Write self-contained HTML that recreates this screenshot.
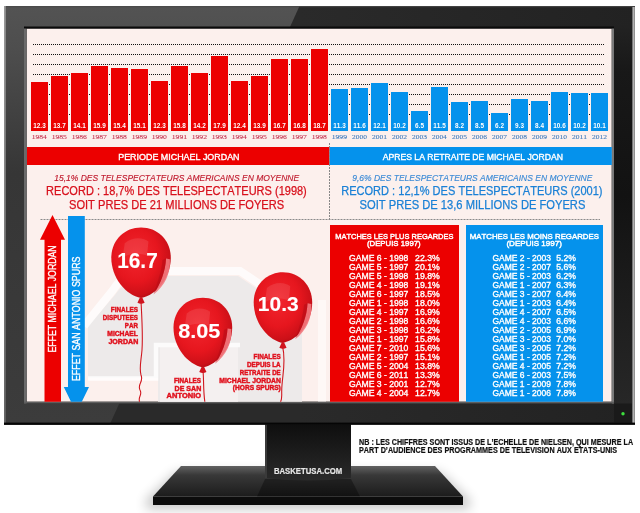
<!DOCTYPE html>
<html><head><meta charset="utf-8"><title>Audiences NBA Finals</title>
<style>
html,body{margin:0;padding:0;background:#fff;width:640px;height:513px;overflow:hidden}
svg{display:block;font-family:'Liberation Sans', Arial, sans-serif}
text{font-kerning:none}
</style></head><body>
<svg width="640" height="513" viewBox="0 0 640 513">
<defs>
<linearGradient id="bezL" gradientUnits="userSpaceOnUse" x1="0" y1="6" x2="0" y2="424"><stop offset="0" stop-color="#535353"/><stop offset="0.1" stop-color="#4e4e4e"/><stop offset="0.4" stop-color="#363636"/><stop offset="1" stop-color="#3c3c3c"/></linearGradient>
<linearGradient id="bezR" gradientUnits="userSpaceOnUse" x1="300" y1="0" x2="635" y2="0"><stop offset="0" stop-color="#2a2a2a"/><stop offset="1" stop-color="#222"/></linearGradient>
<linearGradient id="bezRR" gradientUnits="userSpaceOnUse" x1="0" y1="26" x2="0" y2="404"><stop offset="0" stop-color="#222"/><stop offset="0.12" stop-color="#181818"/><stop offset="0.45" stop-color="#121212"/><stop offset="1" stop-color="#272727"/></linearGradient>
<linearGradient id="edgeL" x1="0" y1="0" x2="0" y2="1"><stop offset="0" stop-color="#9a9a9a"/><stop offset="1" stop-color="#666"/></linearGradient>
<linearGradient id="edgeR" x1="0" y1="0" x2="1" y2="0"><stop offset="0" stop-color="#555"/><stop offset="0.5" stop-color="#aaa"/><stop offset="1" stop-color="#ddd"/></linearGradient>
<linearGradient id="neck" x1="0" y1="0" x2="0" y2="1"><stop offset="0" stop-color="#0e0e0e"/><stop offset="0.5" stop-color="#1c1c1c"/><stop offset="1" stop-color="#2a2a2a"/></linearGradient>
<linearGradient id="baseTop" x1="0" y1="0" x2="0" y2="1"><stop offset="0" stop-color="#626262"/><stop offset="0.3" stop-color="#383838"/><stop offset="1" stop-color="#1c1c1c"/></linearGradient>
<radialGradient id="bal" cx="0.42" cy="0.4" r="0.62"><stop offset="0" stop-color="#f2262e"/><stop offset="0.6" stop-color="#e6161e"/><stop offset="0.9" stop-color="#cc1018"/><stop offset="1" stop-color="#b40c14"/></radialGradient>
<filter id="blur6" x="-50%" y="-50%" width="200%" height="200%"><feGaussianBlur stdDeviation="6"/></filter>
</defs>
<polygon points="176,472 440,472 470,500 470,509 146,509 146,500" fill="#000" opacity="0.22" filter="url(#blur6)"/>
<polygon points="181,466 435,466 463,496.5 153,496.5" fill="url(#baseTop)"/>
<polygon points="265,479 351,479 360,496.5 257,496.5" fill="#000" opacity="0.35"/>
<rect x="153" y="496.5" width="310" height="8.5" fill="#0c0c0c"/>
<path d="M265,424 L351,424 L351,478 Q308,483 265,478 Z" fill="url(#neck)"/>
<rect x="265" y="424" width="2" height="54" fill="#3a3a3a"/>
<text x="273.88" y="473.80" font-size="8.72" fill="#e6e6e6" font-weight="bold" textLength="68.33" lengthAdjust="spacingAndGlyphs" stroke="#e6e6e6" stroke-width="0.2">BASKETUSA.COM</text>
<rect x="4" y="6" width="631" height="418.7" fill="url(#bezR)"/>
<rect x="612" y="26" width="21" height="378" fill="url(#bezRR)"/>
<polygon points="4,6 299.5,6 109.6,424.7 4,424.7" fill="url(#bezL)"/>
<rect x="4" y="6" width="631" height="1.2" fill="#4a4a4a" opacity="0.8"/>
<rect x="4" y="6" width="1.8" height="418" fill="url(#edgeL)"/>
<rect x="632" y="7" width="2.6" height="416" fill="url(#edgeR)"/>
<rect x="614" y="403.5" width="18" height="19" fill="#1a1a1a"/>
<rect x="4" y="422.6" width="631" height="2.1" fill="#050505"/>
<circle cx="623" cy="413.7" r="1.7" fill="#3ee03e"/>
<rect x="24" y="26.5" width="590" height="377" fill="#0a0a0a"/>
<rect x="24" y="28.5" width="2.5" height="375" fill="#6a6a6a"/>
<rect x="611.8" y="28.5" width="2.2" height="375" fill="#7a7a7a"/>
<rect x="24" y="401.8" width="590" height="1.7" fill="#5e5e5e"/>
<clipPath id="scr"><rect x="26.5" y="28.5" width="585.3" height="373.3"/></clipPath>
<g clip-path="url(#scr)">
<rect x="26.5" y="28.5" width="585.3" height="373.3" fill="#fcf0ed"/>
<path d="M88,378 L88,326 L115,295 Q127,277 148,276 L238,276 L262,292 L302,292 L302,402 L158,402 L158,378 Z" fill="#edeaea"/>
<rect x="160" y="347" width="78" height="56" fill="#f4f0f0"/>
<path d="M84,326 L113,290 Q124,272 145,271 L240,271 L264,287" stroke="#fff" stroke-width="8" fill="none" opacity="0.75"/>
<path d="M88,378.5 L156,378.5 L156,345 L240,345" stroke="#fff" stroke-width="4.5" fill="none" opacity="0.8"/>
<rect x="318" y="300" width="8" height="102" fill="#fff" opacity="0.5"/>
<line x1="33" y1="44.5" x2="604" y2="44.5" stroke="#111" stroke-width="1" stroke-dasharray="1 1" shape-rendering="crispEdges"/>
<line x1="33" y1="54.5" x2="604" y2="54.5" stroke="#111" stroke-width="1" stroke-dasharray="1 1" shape-rendering="crispEdges"/>
<line x1="33" y1="64.5" x2="604" y2="64.5" stroke="#111" stroke-width="1" stroke-dasharray="1 1" shape-rendering="crispEdges"/>
<line x1="33" y1="74.5" x2="604" y2="74.5" stroke="#111" stroke-width="1" stroke-dasharray="1 1" shape-rendering="crispEdges"/>
<line x1="33" y1="84.5" x2="604" y2="84.5" stroke="#111" stroke-width="1" stroke-dasharray="1 1" shape-rendering="crispEdges"/>
<line x1="33" y1="94.5" x2="604" y2="94.5" stroke="#111" stroke-width="1" stroke-dasharray="1 1" shape-rendering="crispEdges"/>
<line x1="33" y1="104.5" x2="604" y2="104.5" stroke="#111" stroke-width="1" stroke-dasharray="1 1" shape-rendering="crispEdges"/>
<line x1="33" y1="114.5" x2="604" y2="114.5" stroke="#111" stroke-width="1" stroke-dasharray="1 1" shape-rendering="crispEdges"/>
<rect x="31" y="82" width="17" height="49" fill="#ec0000"/>
<text x="39.50" y="128.00" font-size="6.40" fill="#fff" font-weight="bold" text-anchor="middle">12.3</text>
<text x="31.68" y="138.70" font-size="6.82" fill="#c4304e" font-family="'Liberation Serif', 'Times New Roman', serif" textLength="15.10" lengthAdjust="spacingAndGlyphs" stroke="#c4304e" stroke-width="0.08">1984</text>
<rect x="51" y="76" width="17" height="55" fill="#ec0000"/>
<text x="59.50" y="128.00" font-size="6.40" fill="#fff" font-weight="bold" text-anchor="middle">13.7</text>
<text x="51.67" y="138.70" font-size="6.82" fill="#c4304e" font-family="'Liberation Serif', 'Times New Roman', serif" textLength="15.29" lengthAdjust="spacingAndGlyphs" stroke="#c4304e" stroke-width="0.08">1985</text>
<rect x="71" y="73" width="17" height="58" fill="#ec0000"/>
<text x="79.50" y="128.00" font-size="6.40" fill="#fff" font-weight="bold" text-anchor="middle">14.1</text>
<text x="71.67" y="138.70" font-size="6.82" fill="#c4304e" font-family="'Liberation Serif', 'Times New Roman', serif" textLength="15.22" lengthAdjust="spacingAndGlyphs" stroke="#c4304e" stroke-width="0.08">1986</text>
<rect x="91" y="66" width="17" height="65" fill="#ec0000"/>
<text x="99.50" y="128.00" font-size="6.40" fill="#fff" font-weight="bold" text-anchor="middle">15.9</text>
<text x="91.67" y="138.70" font-size="6.82" fill="#c4304e" font-family="'Liberation Serif', 'Times New Roman', serif" textLength="15.21" lengthAdjust="spacingAndGlyphs" stroke="#c4304e" stroke-width="0.08">1987</text>
<rect x="111" y="68" width="17" height="63" fill="#ec0000"/>
<text x="119.50" y="128.00" font-size="6.40" fill="#fff" font-weight="bold" text-anchor="middle">15.4</text>
<text x="111.67" y="138.70" font-size="6.82" fill="#c4304e" font-family="'Liberation Serif', 'Times New Roman', serif" textLength="15.28" lengthAdjust="spacingAndGlyphs" stroke="#c4304e" stroke-width="0.08">1988</text>
<rect x="131" y="69" width="17" height="62" fill="#ec0000"/>
<text x="139.50" y="128.00" font-size="6.40" fill="#fff" font-weight="bold" text-anchor="middle">15.1</text>
<text x="131.67" y="138.70" font-size="6.82" fill="#c4304e" font-family="'Liberation Serif', 'Times New Roman', serif" textLength="15.31" lengthAdjust="spacingAndGlyphs" stroke="#c4304e" stroke-width="0.08">1989</text>
<rect x="151" y="81" width="17" height="50" fill="#ec0000"/>
<text x="159.50" y="128.00" font-size="6.40" fill="#fff" font-weight="bold" text-anchor="middle">12.3</text>
<text x="151.67" y="138.70" font-size="6.82" fill="#c4304e" font-family="'Liberation Serif', 'Times New Roman', serif" textLength="15.28" lengthAdjust="spacingAndGlyphs" stroke="#c4304e" stroke-width="0.08">1990</text>
<rect x="171" y="66" width="17" height="65" fill="#ec0000"/>
<text x="179.50" y="128.00" font-size="6.40" fill="#fff" font-weight="bold" text-anchor="middle">15.8</text>
<text x="171.66" y="138.70" font-size="6.82" fill="#c4304e" font-family="'Liberation Serif', 'Times New Roman', serif" textLength="15.46" lengthAdjust="spacingAndGlyphs" stroke="#c4304e" stroke-width="0.08">1991</text>
<rect x="191" y="73" width="17" height="58" fill="#ec0000"/>
<text x="199.50" y="128.00" font-size="6.40" fill="#fff" font-weight="bold" text-anchor="middle">14.2</text>
<text x="191.66" y="138.70" font-size="6.82" fill="#c4304e" font-family="'Liberation Serif', 'Times New Roman', serif" textLength="15.42" lengthAdjust="spacingAndGlyphs" stroke="#c4304e" stroke-width="0.08">1992</text>
<rect x="211" y="56" width="17" height="75" fill="#ec0000"/>
<text x="219.50" y="128.00" font-size="6.40" fill="#fff" font-weight="bold" text-anchor="middle">17.9</text>
<text x="211.67" y="138.70" font-size="6.82" fill="#c4304e" font-family="'Liberation Serif', 'Times New Roman', serif" textLength="15.29" lengthAdjust="spacingAndGlyphs" stroke="#c4304e" stroke-width="0.08">1993</text>
<rect x="231" y="81" width="17" height="50" fill="#ec0000"/>
<text x="239.50" y="128.00" font-size="6.40" fill="#fff" font-weight="bold" text-anchor="middle">12.4</text>
<text x="231.68" y="138.70" font-size="6.82" fill="#c4304e" font-family="'Liberation Serif', 'Times New Roman', serif" textLength="15.10" lengthAdjust="spacingAndGlyphs" stroke="#c4304e" stroke-width="0.08">1994</text>
<rect x="251" y="76" width="17" height="55" fill="#ec0000"/>
<text x="259.50" y="128.00" font-size="6.40" fill="#fff" font-weight="bold" text-anchor="middle">13.9</text>
<text x="251.67" y="138.70" font-size="6.82" fill="#c4304e" font-family="'Liberation Serif', 'Times New Roman', serif" textLength="15.29" lengthAdjust="spacingAndGlyphs" stroke="#c4304e" stroke-width="0.08">1995</text>
<rect x="271" y="59" width="17" height="72" fill="#ec0000"/>
<text x="279.50" y="128.00" font-size="6.40" fill="#fff" font-weight="bold" text-anchor="middle">16.7</text>
<text x="271.67" y="138.70" font-size="6.82" fill="#c4304e" font-family="'Liberation Serif', 'Times New Roman', serif" textLength="15.22" lengthAdjust="spacingAndGlyphs" stroke="#c4304e" stroke-width="0.08">1996</text>
<rect x="291" y="59" width="17" height="72" fill="#ec0000"/>
<text x="299.50" y="128.00" font-size="6.40" fill="#fff" font-weight="bold" text-anchor="middle">16.8</text>
<text x="291.67" y="138.70" font-size="6.82" fill="#c4304e" font-family="'Liberation Serif', 'Times New Roman', serif" textLength="15.21" lengthAdjust="spacingAndGlyphs" stroke="#c4304e" stroke-width="0.08">1997</text>
<rect x="311" y="49" width="17" height="82" fill="#ec0000"/>
<text x="319.50" y="128.00" font-size="6.40" fill="#fff" font-weight="bold" text-anchor="middle">18.7</text>
<text x="311.67" y="138.70" font-size="6.82" fill="#c4304e" font-family="'Liberation Serif', 'Times New Roman', serif" textLength="15.28" lengthAdjust="spacingAndGlyphs" stroke="#c4304e" stroke-width="0.08">1998</text>
<rect x="331" y="89" width="17" height="42" fill="#0592ec"/>
<text x="339.50" y="128.00" font-size="6.40" fill="#fff" font-weight="bold" text-anchor="middle">11.3</text>
<text x="331.67" y="138.70" font-size="6.82" fill="#3a78bc" font-family="'Liberation Serif', 'Times New Roman', serif" textLength="15.31" lengthAdjust="spacingAndGlyphs" stroke="#3a78bc" stroke-width="0.08">1999</text>
<rect x="351" y="88" width="17" height="43" fill="#0592ec"/>
<text x="359.50" y="128.00" font-size="6.40" fill="#fff" font-weight="bold" text-anchor="middle">11.6</text>
<text x="352.01" y="138.70" font-size="6.82" fill="#3a78bc" font-family="'Liberation Serif', 'Times New Roman', serif" textLength="14.93" lengthAdjust="spacingAndGlyphs" stroke="#3a78bc" stroke-width="0.08">2000</text>
<rect x="371" y="83" width="17" height="48" fill="#0592ec"/>
<text x="379.50" y="128.00" font-size="6.40" fill="#fff" font-weight="bold" text-anchor="middle">12.1</text>
<text x="372.01" y="138.70" font-size="6.82" fill="#3a78bc" font-family="'Liberation Serif', 'Times New Roman', serif" textLength="15.11" lengthAdjust="spacingAndGlyphs" stroke="#3a78bc" stroke-width="0.08">2001</text>
<rect x="391" y="92" width="17" height="39" fill="#0592ec"/>
<text x="399.50" y="128.00" font-size="6.40" fill="#fff" font-weight="bold" text-anchor="middle">10.2</text>
<text x="392.01" y="138.70" font-size="6.82" fill="#3a78bc" font-family="'Liberation Serif', 'Times New Roman', serif" textLength="15.07" lengthAdjust="spacingAndGlyphs" stroke="#3a78bc" stroke-width="0.08">2002</text>
<rect x="411" y="111" width="17" height="20" fill="#0592ec"/>
<text x="419.50" y="128.00" font-size="6.40" fill="#fff" font-weight="bold" text-anchor="middle">6.5</text>
<text x="412.01" y="138.70" font-size="6.82" fill="#3a78bc" font-family="'Liberation Serif', 'Times New Roman', serif" textLength="14.94" lengthAdjust="spacingAndGlyphs" stroke="#3a78bc" stroke-width="0.08">2003</text>
<rect x="431" y="87" width="17" height="44" fill="#0592ec"/>
<text x="439.50" y="128.00" font-size="6.40" fill="#fff" font-weight="bold" text-anchor="middle">11.5</text>
<text x="432.02" y="138.70" font-size="6.82" fill="#3a78bc" font-family="'Liberation Serif', 'Times New Roman', serif" textLength="14.76" lengthAdjust="spacingAndGlyphs" stroke="#3a78bc" stroke-width="0.08">2004</text>
<rect x="451" y="102" width="17" height="29" fill="#0592ec"/>
<text x="459.50" y="128.00" font-size="6.40" fill="#fff" font-weight="bold" text-anchor="middle">8.2</text>
<text x="452.01" y="138.70" font-size="6.82" fill="#3a78bc" font-family="'Liberation Serif', 'Times New Roman', serif" textLength="14.94" lengthAdjust="spacingAndGlyphs" stroke="#3a78bc" stroke-width="0.08">2005</text>
<rect x="471" y="101" width="17" height="30" fill="#0592ec"/>
<text x="479.50" y="128.00" font-size="6.40" fill="#fff" font-weight="bold" text-anchor="middle">8.5</text>
<text x="472.01" y="138.70" font-size="6.82" fill="#3a78bc" font-family="'Liberation Serif', 'Times New Roman', serif" textLength="14.87" lengthAdjust="spacingAndGlyphs" stroke="#3a78bc" stroke-width="0.08">2006</text>
<rect x="491" y="113" width="17" height="18" fill="#0592ec"/>
<text x="499.50" y="128.00" font-size="6.40" fill="#fff" font-weight="bold" text-anchor="middle">6.2</text>
<text x="492.01" y="138.70" font-size="6.82" fill="#3a78bc" font-family="'Liberation Serif', 'Times New Roman', serif" textLength="14.86" lengthAdjust="spacingAndGlyphs" stroke="#3a78bc" stroke-width="0.08">2007</text>
<rect x="511" y="99" width="17" height="32" fill="#0592ec"/>
<text x="519.50" y="128.00" font-size="6.40" fill="#fff" font-weight="bold" text-anchor="middle">9.3</text>
<text x="512.01" y="138.70" font-size="6.82" fill="#3a78bc" font-family="'Liberation Serif', 'Times New Roman', serif" textLength="14.93" lengthAdjust="spacingAndGlyphs" stroke="#3a78bc" stroke-width="0.08">2008</text>
<rect x="531" y="101" width="17" height="30" fill="#0592ec"/>
<text x="539.50" y="128.00" font-size="6.40" fill="#fff" font-weight="bold" text-anchor="middle">8.4</text>
<text x="532.01" y="138.70" font-size="6.82" fill="#3a78bc" font-family="'Liberation Serif', 'Times New Roman', serif" textLength="14.96" lengthAdjust="spacingAndGlyphs" stroke="#3a78bc" stroke-width="0.08">2009</text>
<rect x="551" y="92" width="17" height="39" fill="#0592ec"/>
<text x="559.50" y="128.00" font-size="6.40" fill="#fff" font-weight="bold" text-anchor="middle">10.6</text>
<text x="552.01" y="138.70" font-size="6.82" fill="#3a78bc" font-family="'Liberation Serif', 'Times New Roman', serif" textLength="14.93" lengthAdjust="spacingAndGlyphs" stroke="#3a78bc" stroke-width="0.08">2010</text>
<rect x="571" y="93" width="17" height="38" fill="#0592ec"/>
<text x="579.50" y="128.00" font-size="6.40" fill="#fff" font-weight="bold" text-anchor="middle">10.2</text>
<text x="572.01" y="138.70" font-size="6.82" fill="#3a78bc" font-family="'Liberation Serif', 'Times New Roman', serif" textLength="15.11" lengthAdjust="spacingAndGlyphs" stroke="#3a78bc" stroke-width="0.08">2011</text>
<rect x="591" y="93" width="17" height="38" fill="#0592ec"/>
<text x="599.50" y="128.00" font-size="6.40" fill="#fff" font-weight="bold" text-anchor="middle">10.1</text>
<text x="592.01" y="138.70" font-size="6.82" fill="#3a78bc" font-family="'Liberation Serif', 'Times New Roman', serif" textLength="15.07" lengthAdjust="spacingAndGlyphs" stroke="#3a78bc" stroke-width="0.08">2012</text>
<rect x="27" y="147" width="302.5" height="18" fill="#ec0000"/>
<rect x="329.5" y="147" width="282.5" height="18" fill="#0592ec"/>
<text x="118.22" y="160.30" font-size="9.59" fill="#fff" textLength="121.31" lengthAdjust="spacingAndGlyphs" stroke="#fff" stroke-width="0.4">PERIODE MICHAEL JORDAN</text>
<text x="382.68" y="160.30" font-size="9.59" fill="#fff" textLength="180.32" lengthAdjust="spacingAndGlyphs" stroke="#fff" stroke-width="0.4">APRES LA RETRAITE DE MICHAEL JORDAN</text>
<line x1="329.5" y1="143" x2="329.5" y2="219" stroke="#888" stroke-width="1" stroke-dasharray="2 1"/>
<line x1="40.5" y1="219.5" x2="600" y2="219.5" stroke="#8a8a8a" stroke-width="1" stroke-dasharray="2 1"/>
<text x="54.26" y="181.00" font-size="9.08" fill="#c0182c" font-style="italic" textLength="244.84" lengthAdjust="spacingAndGlyphs" stroke="#c0182c" stroke-width="0.15">15,1% DES TELESPECTATEURS AMERICAINS EN MOYENNE</text>
<text x="46.12" y="194.75" font-size="12.35" fill="#d8101c" textLength="260.69" lengthAdjust="spacingAndGlyphs" stroke="#d8101c" stroke-width="0.25">RECORD : 18,7% DES TELESPECTATEURS (1998)</text>
<text x="69.02" y="208.75" font-size="12.14" fill="#d8101c" textLength="215.11" lengthAdjust="spacingAndGlyphs" stroke="#d8101c" stroke-width="0.25">SOIT PRES DE 21 MILLIONS DE FOYERS</text>
<text x="352.28" y="181.00" font-size="9.08" fill="#3a8ad6" font-style="italic" textLength="240.06" lengthAdjust="spacingAndGlyphs" stroke="#3a8ad6" stroke-width="0.15">9,6% DES TELESPECTATEURS AMERICAINS EN MOYENNE</text>
<text x="341.22" y="194.75" font-size="12.35" fill="#1a80d6" textLength="261.34" lengthAdjust="spacingAndGlyphs" stroke="#1a80d6" stroke-width="0.25">RECORD : 12,1% DES TELESPECTATEURS (2001)</text>
<text x="359.62" y="208.75" font-size="12.14" fill="#1a80d6" textLength="225.77" lengthAdjust="spacingAndGlyphs" stroke="#1a80d6" stroke-width="0.25">SOIT PRES DE 13,6 MILLIONS DE FOYERS</text>
<polygon points="52.5,215 65,239.8 61,239.8 61,402 44.5,402 44.5,239.8 40,239.8" fill="#ec0000"/>
<polygon points="68,216 84.8,216 84.8,387 89,387 76.4,412.8 63.8,387 68,387" fill="#0592ec"/>
<text transform="translate(56.20,352.00) rotate(-90)" x="-0.54" y="0" font-size="10.47" fill="#fff" stroke="#fff" stroke-width="0.35" textLength="107.18" lengthAdjust="spacingAndGlyphs">EFFET MICHAEL JORDAN</text>
<text transform="translate(80.30,380.50) rotate(-90)" x="-0.55" y="0" font-size="10.90" fill="#fff" stroke="#fff" stroke-width="0.35" textLength="124.48" lengthAdjust="spacingAndGlyphs">EFFET SAN ANTONIO SPURS</text>
<path d="M141,301 C142,320 143,335 142,350 C141,362 139,368 141,375 C144,382 137,384 140,390 C143,395 137,397 140,403" stroke="#d01820" stroke-width="1.1" fill="none"/>
<g transform="translate(141.05,262.70) scale(29.75,35.30)">
<path d="M 0,-1 C 0.56,-1 1,-0.64 1,-0.14 C 1,0.42 0.52,0.92 0,1 C -0.52,0.92 -1,0.42 -1,-0.14 C -1,-0.64 -0.56,-1 0,-1 Z" fill="url(#bal)"/>
<path d="M 0.97,-0.1 C 1.0,0.3 0.8,0.65 0.42,0.9 C 0.65,0.6 0.82,0.25 0.84,-0.12 Z" fill="#f27a80" opacity="0.9"/>
<path d="M 0.84,-0.12 C 0.82,0.25 0.65,0.6 0.42,0.9 C 0.56,0.55 0.7,0.2 0.72,-0.08 Z" fill="#b00c16" opacity="0.45"/>
<path d="M -0.55,-0.55 C -0.3,-0.75 0.1,-0.72 0.25,-0.6 L 0.2,-0.2 C -0.1,-0.3 -0.4,-0.25 -0.62,-0.15 Z" fill="#fff" opacity="0.10"/>
</g>
<path d="M139.85,297.50 L142.25,297.50 L144.65,302.80 Q141.05,304.80 137.45,302.80 Z" fill="#d0141e"/>
<text x="117.14" y="267.50" font-size="22.35" fill="#fff" font-weight="bold" textLength="40.63" lengthAdjust="spacingAndGlyphs" stroke="#fff" stroke-width="0.1">16.7</text>
<path d="M203,371 C204,380 203,390 205,403" stroke="#d01820" stroke-width="1.1" fill="none"/>
<g transform="translate(202.85,332.55) scale(29.35,34.75)">
<path d="M 0,-1 C 0.56,-1 1,-0.64 1,-0.14 C 1,0.42 0.52,0.92 0,1 C -0.52,0.92 -1,0.42 -1,-0.14 C -1,-0.64 -0.56,-1 0,-1 Z" fill="url(#bal)"/>
<path d="M 0.97,-0.1 C 1.0,0.3 0.8,0.65 0.42,0.9 C 0.65,0.6 0.82,0.25 0.84,-0.12 Z" fill="#f27a80" opacity="0.9"/>
<path d="M 0.84,-0.12 C 0.82,0.25 0.65,0.6 0.42,0.9 C 0.56,0.55 0.7,0.2 0.72,-0.08 Z" fill="#b00c16" opacity="0.45"/>
<path d="M -0.55,-0.55 C -0.3,-0.75 0.1,-0.72 0.25,-0.6 L 0.2,-0.2 C -0.1,-0.3 -0.4,-0.25 -0.62,-0.15 Z" fill="#fff" opacity="0.10"/>
</g>
<path d="M201.65,366.80 L204.05,366.80 L206.45,372.10 Q202.85,374.10 199.25,372.10 Z" fill="#d0141e"/>
<text x="178.26" y="337.70" font-size="20.91" fill="#fff" font-weight="bold" textLength="42.19" lengthAdjust="spacingAndGlyphs" stroke="#fff" stroke-width="0.1">8.05</text>
<path d="M282.5,346 C286,360 283,372 282,385 C281,395 283,399 280,403" stroke="#d01820" stroke-width="1.1" fill="none"/>
<g transform="translate(282.95,307.55) scale(29.25,35.35)">
<path d="M 0,-1 C 0.56,-1 1,-0.64 1,-0.14 C 1,0.42 0.52,0.92 0,1 C -0.52,0.92 -1,0.42 -1,-0.14 C -1,-0.64 -0.56,-1 0,-1 Z" fill="url(#bal)"/>
<path d="M 0.97,-0.1 C 1.0,0.3 0.8,0.65 0.42,0.9 C 0.65,0.6 0.82,0.25 0.84,-0.12 Z" fill="#f27a80" opacity="0.9"/>
<path d="M 0.84,-0.12 C 0.82,0.25 0.65,0.6 0.42,0.9 C 0.56,0.55 0.7,0.2 0.72,-0.08 Z" fill="#b00c16" opacity="0.45"/>
<path d="M -0.55,-0.55 C -0.3,-0.75 0.1,-0.72 0.25,-0.6 L 0.2,-0.2 C -0.1,-0.3 -0.4,-0.25 -0.62,-0.15 Z" fill="#fff" opacity="0.10"/>
</g>
<path d="M281.75,342.40 L284.15,342.40 L286.55,347.70 Q282.95,349.70 279.35,347.70 Z" fill="#d0141e"/>
<text x="257.83" y="311.00" font-size="20.05" fill="#fff" font-weight="bold" textLength="40.78" lengthAdjust="spacingAndGlyphs" stroke="#fff" stroke-width="0.1">10.3</text>
<text x="110.80" y="311.70" font-size="7.27" fill="#e0101c" font-weight="bold" textLength="27.22" lengthAdjust="spacingAndGlyphs" stroke="#e0101c" stroke-width="0.45">FINALES</text>
<text x="102.81" y="319.90" font-size="7.27" fill="#e0101c" font-weight="bold" textLength="35.21" lengthAdjust="spacingAndGlyphs" stroke="#e0101c" stroke-width="0.45">DISPUTEES</text>
<text x="124.81" y="327.90" font-size="7.27" fill="#e0101c" font-weight="bold" textLength="13.09" lengthAdjust="spacingAndGlyphs" stroke="#e0101c" stroke-width="0.45">PAR</text>
<text x="107.27" y="335.80" font-size="7.27" fill="#e0101c" font-weight="bold" textLength="30.71" lengthAdjust="spacingAndGlyphs" stroke="#e0101c" stroke-width="0.45">MICHAEL</text>
<text x="108.42" y="343.60" font-size="7.27" fill="#e0101c" font-weight="bold" textLength="29.83" lengthAdjust="spacingAndGlyphs" stroke="#e0101c" stroke-width="0.45">JORDAN</text>
<text x="173.90" y="382.70" font-size="7.27" fill="#e0101c" font-weight="bold" textLength="27.12" lengthAdjust="spacingAndGlyphs" stroke="#e0101c" stroke-width="0.45">FINALES</text>
<text x="174.55" y="390.50" font-size="7.27" fill="#e0101c" font-weight="bold" textLength="26.70" lengthAdjust="spacingAndGlyphs" stroke="#e0101c" stroke-width="0.45">DE SAN</text>
<text x="166.64" y="398.30" font-size="7.27" fill="#e0101c" font-weight="bold" textLength="34.45" lengthAdjust="spacingAndGlyphs" stroke="#e0101c" stroke-width="0.45">ANTONIO</text>
<text x="253.50" y="358.90" font-size="7.27" fill="#e0101c" font-weight="bold" textLength="27.22" lengthAdjust="spacingAndGlyphs" stroke="#e0101c" stroke-width="0.45">FINALES</text>
<text x="246.90" y="366.90" font-size="7.27" fill="#e0101c" font-weight="bold" textLength="33.74" lengthAdjust="spacingAndGlyphs" stroke="#e0101c" stroke-width="0.45">DEPUIS LA</text>
<text x="239.81" y="374.80" font-size="7.27" fill="#e0101c" font-weight="bold" textLength="40.90" lengthAdjust="spacingAndGlyphs" stroke="#e0101c" stroke-width="0.45">RETRAITE DE</text>
<text x="219.27" y="382.70" font-size="7.27" fill="#e0101c" font-weight="bold" textLength="61.66" lengthAdjust="spacingAndGlyphs" stroke="#e0101c" stroke-width="0.45">MICHAEL JORDAN</text>
<text x="232.80" y="390.40" font-size="7.27" fill="#e0101c" font-weight="bold" textLength="48.01" lengthAdjust="spacingAndGlyphs" stroke="#e0101c" stroke-width="0.45">(HORS SPURS)</text>
<rect x="330" y="225" width="129" height="177" fill="#ec0000"/>
<rect x="466" y="225" width="137" height="177" fill="#0592ec"/>
<text x="335.31" y="238.80" font-size="7.99" fill="#fff" textLength="118.10" lengthAdjust="spacingAndGlyphs" stroke="#fff" stroke-width="0.45">MATCHES LES PLUS REGARDES</text>
<text x="366.94" y="245.90" font-size="7.99" fill="#fff" textLength="53.72" lengthAdjust="spacingAndGlyphs" stroke="#fff" stroke-width="0.45">(DEPUIS 1997)</text>
<text x="469.78" y="238.80" font-size="7.99" fill="#fff" textLength="129.15" lengthAdjust="spacingAndGlyphs" stroke="#fff" stroke-width="0.45">MATCHES LES MOINS REGARDES</text>
<text x="506.43" y="245.90" font-size="7.99" fill="#fff" textLength="55.55" lengthAdjust="spacingAndGlyphs" stroke="#fff" stroke-width="0.45">(DEPUIS 1997)</text>
<text x="349.04" y="261.00" font-size="8.58" fill="#fff" textLength="59.36" lengthAdjust="spacingAndGlyphs" stroke="#fff" stroke-width="0.35">GAME 6 - 1998</text>
<text x="415.04" y="261.00" font-size="8.58" fill="#fff" textLength="24.80" lengthAdjust="spacingAndGlyphs" stroke="#fff" stroke-width="0.35">22.3%</text>
<text x="349.04" y="270.03" font-size="8.58" fill="#fff" textLength="59.36" lengthAdjust="spacingAndGlyphs" stroke="#fff" stroke-width="0.35">GAME 5 - 1997</text>
<text x="415.04" y="270.03" font-size="8.58" fill="#fff" textLength="24.80" lengthAdjust="spacingAndGlyphs" stroke="#fff" stroke-width="0.35">20.1%</text>
<text x="349.04" y="279.06" font-size="8.58" fill="#fff" textLength="59.36" lengthAdjust="spacingAndGlyphs" stroke="#fff" stroke-width="0.35">GAME 5 - 1998</text>
<text x="415.04" y="279.06" font-size="8.58" fill="#fff" textLength="24.80" lengthAdjust="spacingAndGlyphs" stroke="#fff" stroke-width="0.35">19.8%</text>
<text x="349.04" y="288.09" font-size="8.58" fill="#fff" textLength="59.36" lengthAdjust="spacingAndGlyphs" stroke="#fff" stroke-width="0.35">GAME 4 - 1998</text>
<text x="415.04" y="288.09" font-size="8.58" fill="#fff" textLength="24.80" lengthAdjust="spacingAndGlyphs" stroke="#fff" stroke-width="0.35">19.1%</text>
<text x="349.04" y="297.12" font-size="8.58" fill="#fff" textLength="59.36" lengthAdjust="spacingAndGlyphs" stroke="#fff" stroke-width="0.35">GAME 6 - 1997</text>
<text x="415.04" y="297.12" font-size="8.58" fill="#fff" textLength="24.80" lengthAdjust="spacingAndGlyphs" stroke="#fff" stroke-width="0.35">18.5%</text>
<text x="349.04" y="306.15" font-size="8.58" fill="#fff" textLength="59.36" lengthAdjust="spacingAndGlyphs" stroke="#fff" stroke-width="0.35">GAME 1 - 1998</text>
<text x="415.04" y="306.15" font-size="8.58" fill="#fff" textLength="24.80" lengthAdjust="spacingAndGlyphs" stroke="#fff" stroke-width="0.35">18.0%</text>
<text x="349.04" y="315.18" font-size="8.58" fill="#fff" textLength="59.36" lengthAdjust="spacingAndGlyphs" stroke="#fff" stroke-width="0.35">GAME 4 - 1997</text>
<text x="415.04" y="315.18" font-size="8.58" fill="#fff" textLength="24.80" lengthAdjust="spacingAndGlyphs" stroke="#fff" stroke-width="0.35">16.9%</text>
<text x="349.04" y="324.21" font-size="8.58" fill="#fff" textLength="59.36" lengthAdjust="spacingAndGlyphs" stroke="#fff" stroke-width="0.35">GAME 2 - 1998</text>
<text x="415.04" y="324.21" font-size="8.58" fill="#fff" textLength="24.80" lengthAdjust="spacingAndGlyphs" stroke="#fff" stroke-width="0.35">16.6%</text>
<text x="349.04" y="333.24" font-size="8.58" fill="#fff" textLength="59.36" lengthAdjust="spacingAndGlyphs" stroke="#fff" stroke-width="0.35">GAME 3 - 1998</text>
<text x="415.04" y="333.24" font-size="8.58" fill="#fff" textLength="24.80" lengthAdjust="spacingAndGlyphs" stroke="#fff" stroke-width="0.35">16.2%</text>
<text x="349.04" y="342.27" font-size="8.58" fill="#fff" textLength="59.36" lengthAdjust="spacingAndGlyphs" stroke="#fff" stroke-width="0.35">GAME 1 - 1997</text>
<text x="415.04" y="342.27" font-size="8.58" fill="#fff" textLength="24.80" lengthAdjust="spacingAndGlyphs" stroke="#fff" stroke-width="0.35">15.8%</text>
<text x="349.04" y="351.30" font-size="8.58" fill="#fff" textLength="59.36" lengthAdjust="spacingAndGlyphs" stroke="#fff" stroke-width="0.35">GAME 7 - 2010</text>
<text x="415.04" y="351.30" font-size="8.58" fill="#fff" textLength="24.80" lengthAdjust="spacingAndGlyphs" stroke="#fff" stroke-width="0.35">15.6%</text>
<text x="349.04" y="360.33" font-size="8.58" fill="#fff" textLength="59.36" lengthAdjust="spacingAndGlyphs" stroke="#fff" stroke-width="0.35">GAME 2 - 1997</text>
<text x="415.04" y="360.33" font-size="8.58" fill="#fff" textLength="24.80" lengthAdjust="spacingAndGlyphs" stroke="#fff" stroke-width="0.35">15.1%</text>
<text x="349.04" y="369.36" font-size="8.58" fill="#fff" textLength="59.36" lengthAdjust="spacingAndGlyphs" stroke="#fff" stroke-width="0.35">GAME 5 - 2004</text>
<text x="415.04" y="369.36" font-size="8.58" fill="#fff" textLength="24.80" lengthAdjust="spacingAndGlyphs" stroke="#fff" stroke-width="0.35">13.8%</text>
<text x="349.04" y="378.39" font-size="8.58" fill="#fff" textLength="59.36" lengthAdjust="spacingAndGlyphs" stroke="#fff" stroke-width="0.35">GAME 6 - 2011</text>
<text x="415.04" y="378.39" font-size="8.58" fill="#fff" textLength="24.80" lengthAdjust="spacingAndGlyphs" stroke="#fff" stroke-width="0.35">13.3%</text>
<text x="349.04" y="387.42" font-size="8.58" fill="#fff" textLength="59.36" lengthAdjust="spacingAndGlyphs" stroke="#fff" stroke-width="0.35">GAME 3 - 2001</text>
<text x="415.04" y="387.42" font-size="8.58" fill="#fff" textLength="24.80" lengthAdjust="spacingAndGlyphs" stroke="#fff" stroke-width="0.35">12.7%</text>
<text x="349.04" y="396.45" font-size="8.58" fill="#fff" textLength="59.36" lengthAdjust="spacingAndGlyphs" stroke="#fff" stroke-width="0.35">GAME 4 - 2004</text>
<text x="415.04" y="396.45" font-size="8.58" fill="#fff" textLength="24.80" lengthAdjust="spacingAndGlyphs" stroke="#fff" stroke-width="0.35">12.7%</text>
<text x="492.45" y="261.00" font-size="8.58" fill="#fff" textLength="58.55" lengthAdjust="spacingAndGlyphs" stroke="#fff" stroke-width="0.35">GAME 2 - 2003</text>
<text x="556.23" y="261.00" font-size="8.58" fill="#fff" textLength="19.70" lengthAdjust="spacingAndGlyphs" stroke="#fff" stroke-width="0.35">5.2%</text>
<text x="492.45" y="270.03" font-size="8.58" fill="#fff" textLength="58.55" lengthAdjust="spacingAndGlyphs" stroke="#fff" stroke-width="0.35">GAME 2 - 2007</text>
<text x="556.23" y="270.03" font-size="8.58" fill="#fff" textLength="19.70" lengthAdjust="spacingAndGlyphs" stroke="#fff" stroke-width="0.35">5.6%</text>
<text x="492.45" y="279.06" font-size="8.58" fill="#fff" textLength="58.55" lengthAdjust="spacingAndGlyphs" stroke="#fff" stroke-width="0.35">GAME 5 - 2003</text>
<text x="556.23" y="279.06" font-size="8.58" fill="#fff" textLength="19.70" lengthAdjust="spacingAndGlyphs" stroke="#fff" stroke-width="0.35">6.2%</text>
<text x="492.45" y="288.09" font-size="8.58" fill="#fff" textLength="58.55" lengthAdjust="spacingAndGlyphs" stroke="#fff" stroke-width="0.35">GAME 1 - 2007</text>
<text x="556.23" y="288.09" font-size="8.58" fill="#fff" textLength="19.70" lengthAdjust="spacingAndGlyphs" stroke="#fff" stroke-width="0.35">6.3%</text>
<text x="492.45" y="297.12" font-size="8.58" fill="#fff" textLength="58.55" lengthAdjust="spacingAndGlyphs" stroke="#fff" stroke-width="0.35">GAME 3 - 2007</text>
<text x="556.23" y="297.12" font-size="8.58" fill="#fff" textLength="19.70" lengthAdjust="spacingAndGlyphs" stroke="#fff" stroke-width="0.35">6.4%</text>
<text x="492.45" y="306.15" font-size="8.58" fill="#fff" textLength="58.55" lengthAdjust="spacingAndGlyphs" stroke="#fff" stroke-width="0.35">GAME 1 - 2003</text>
<text x="556.23" y="306.15" font-size="8.58" fill="#fff" textLength="19.70" lengthAdjust="spacingAndGlyphs" stroke="#fff" stroke-width="0.35">6.4%</text>
<text x="492.45" y="315.18" font-size="8.58" fill="#fff" textLength="58.55" lengthAdjust="spacingAndGlyphs" stroke="#fff" stroke-width="0.35">GAME 4 - 2007</text>
<text x="556.23" y="315.18" font-size="8.58" fill="#fff" textLength="19.70" lengthAdjust="spacingAndGlyphs" stroke="#fff" stroke-width="0.35">6.5%</text>
<text x="492.45" y="324.21" font-size="8.58" fill="#fff" textLength="58.55" lengthAdjust="spacingAndGlyphs" stroke="#fff" stroke-width="0.35">GAME 4 - 2003</text>
<text x="556.23" y="324.21" font-size="8.58" fill="#fff" textLength="19.70" lengthAdjust="spacingAndGlyphs" stroke="#fff" stroke-width="0.35">6.6%</text>
<text x="492.45" y="333.24" font-size="8.58" fill="#fff" textLength="58.55" lengthAdjust="spacingAndGlyphs" stroke="#fff" stroke-width="0.35">GAME 2 - 2005</text>
<text x="556.23" y="333.24" font-size="8.58" fill="#fff" textLength="19.70" lengthAdjust="spacingAndGlyphs" stroke="#fff" stroke-width="0.35">6.9%</text>
<text x="492.45" y="342.27" font-size="8.58" fill="#fff" textLength="58.55" lengthAdjust="spacingAndGlyphs" stroke="#fff" stroke-width="0.35">GAME 3 - 2003</text>
<text x="556.23" y="342.27" font-size="8.58" fill="#fff" textLength="19.70" lengthAdjust="spacingAndGlyphs" stroke="#fff" stroke-width="0.35">7.0%</text>
<text x="492.45" y="351.30" font-size="8.58" fill="#fff" textLength="58.55" lengthAdjust="spacingAndGlyphs" stroke="#fff" stroke-width="0.35">GAME 3 - 2005</text>
<text x="556.23" y="351.30" font-size="8.58" fill="#fff" textLength="19.70" lengthAdjust="spacingAndGlyphs" stroke="#fff" stroke-width="0.35">7.2%</text>
<text x="492.45" y="360.33" font-size="8.58" fill="#fff" textLength="58.55" lengthAdjust="spacingAndGlyphs" stroke="#fff" stroke-width="0.35">GAME 1 - 2005</text>
<text x="556.23" y="360.33" font-size="8.58" fill="#fff" textLength="19.70" lengthAdjust="spacingAndGlyphs" stroke="#fff" stroke-width="0.35">7.2%</text>
<text x="492.45" y="369.36" font-size="8.58" fill="#fff" textLength="58.55" lengthAdjust="spacingAndGlyphs" stroke="#fff" stroke-width="0.35">GAME 4 - 2005</text>
<text x="556.23" y="369.36" font-size="8.58" fill="#fff" textLength="19.70" lengthAdjust="spacingAndGlyphs" stroke="#fff" stroke-width="0.35">7.2%</text>
<text x="492.45" y="378.39" font-size="8.58" fill="#fff" textLength="58.55" lengthAdjust="spacingAndGlyphs" stroke="#fff" stroke-width="0.35">GAME 6 - 2003</text>
<text x="556.23" y="378.39" font-size="8.58" fill="#fff" textLength="19.70" lengthAdjust="spacingAndGlyphs" stroke="#fff" stroke-width="0.35">7.5%</text>
<text x="492.45" y="387.42" font-size="8.58" fill="#fff" textLength="58.55" lengthAdjust="spacingAndGlyphs" stroke="#fff" stroke-width="0.35">GAME 1 - 2009</text>
<text x="556.23" y="387.42" font-size="8.58" fill="#fff" textLength="19.70" lengthAdjust="spacingAndGlyphs" stroke="#fff" stroke-width="0.35">7.8%</text>
<text x="492.45" y="396.45" font-size="8.58" fill="#fff" textLength="58.55" lengthAdjust="spacingAndGlyphs" stroke="#fff" stroke-width="0.35">GAME 1 - 2006</text>
<text x="556.23" y="396.45" font-size="8.58" fill="#fff" textLength="19.70" lengthAdjust="spacingAndGlyphs" stroke="#fff" stroke-width="0.35">7.8%</text>
</g>
<text x="359.02" y="445.20" font-size="8.43" fill="#111" font-weight="bold" textLength="274.07" lengthAdjust="spacingAndGlyphs" stroke="#111" stroke-width="0.2">NB : LES CHIFFRES SONT ISSUS DE L’ECHELLE DE NIELSEN, QUI MESURE LA</text>
<text x="359.02" y="452.70" font-size="8.43" fill="#111" font-weight="bold" textLength="258.16" lengthAdjust="spacingAndGlyphs" stroke="#111" stroke-width="0.2">PART D’AUDIENCE DES PROGRAMMES DE TELEVISION AUX ETATS-UNIS</text>
</svg>
</body></html>
